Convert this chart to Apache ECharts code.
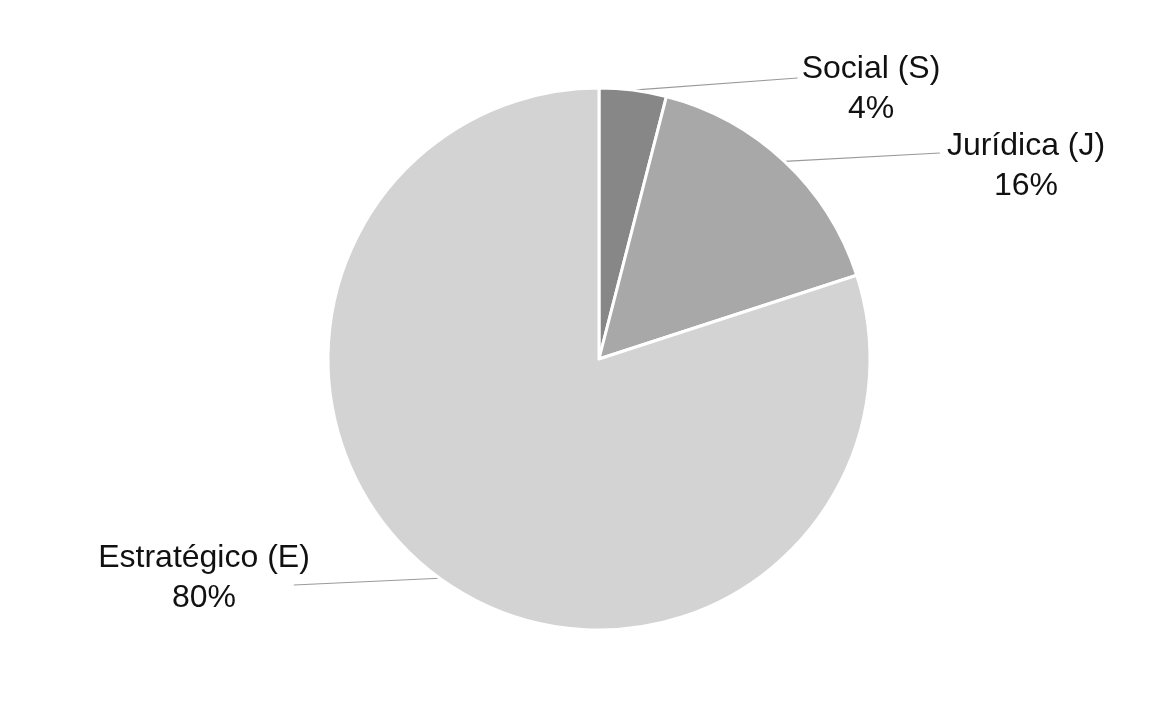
<!DOCTYPE html>
<html>
<head>
<meta charset="utf-8">
<script src="https://cdn.jsdelivr.net/npm/echarts@6/dist/echarts.min.js"></script>
<style>
  html, body { margin: 0; padding: 0; background: #ffffff; }
  #chart { width: 1172px; height: 708px; }
</style>
</head>
<body>
<div id="chart"></div>
<script>
// Shares by type, percent
const categories = ['Social (S)', 'Jurídica (J)', 'Estratégico (E)'];
const shares = [4, 16, 80];
const sliceColors = ['#878787', '#a8a8a8', '#d3d3d3'];

// Where each two-line label block is centred (px), the side its leader attaches to,
// and the leader's end offset from that text edge / block centre
const labelSpots = [
  { x: 871, y: 89, side: 'left', dx: -4, dy: -11 },
  { x: 1026, y: 166, side: 'left', dx: -7, dy: -13 },
  { x: 204, y: 578, side: 'right', dx: -16, dy: 7 }
];

const chart = echarts.init(document.getElementById('chart'));

chart.setOption({
  backgroundColor: '#ffffff',
  animation: false,
  series: [{
    type: 'pie',
    center: [599, 359],
    radius: [0, 271],
    startAngle: 90,
    clockwise: true,
    data: categories.map((name, i) => ({
      name: name,
      value: shares[i],
      itemStyle: { color: sliceColors[i] }
    })),
    itemStyle: { borderColor: '#ffffff', borderWidth: 3 },
    label: {
      show: true,
      position: 'outside',
      formatter: '{b}\n{c}%',
      fontFamily: 'Liberation Sans, Arial, sans-serif',
      fontSize: 32,
      lineHeight: 40,
      color: '#111111',
      align: 'center'
    },
    labelLine: {
      show: true,
      length: 10,
      length2: 10,
      lineStyle: { color: '#9a9a9a', width: 1.2 }
    },
    labelLayout: function (params) {
      const spot = labelSpots[params.dataIndex];
      const w = params.labelRect.width;
      const start = params.labelLinePoints ? params.labelLinePoints[0] : null;
      const edgeX = spot.side === 'left' ? spot.x - w / 2 : spot.x + w / 2;
      const out = {
        x: spot.x,
        y: spot.y,
        align: 'center',
        verticalAlign: 'middle'
      };
      if (start) {
        out.labelLinePoints = [start, [edgeX + spot.dx, spot.y + spot.dy]];
      }
      return out;
    }
  }]
});
</script>
</body>
</html>
